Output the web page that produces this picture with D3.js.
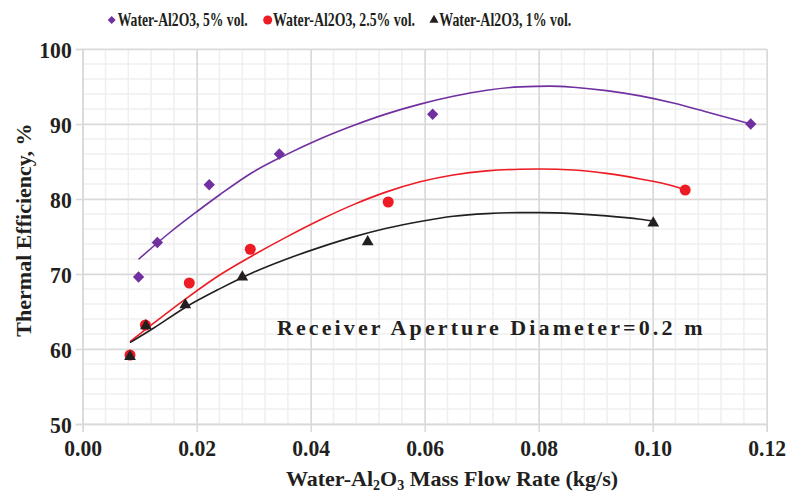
<!DOCTYPE html>
<html>
<head>
<meta charset="utf-8">
<script src="https://cdn.jsdelivr.net/npm/d3@7/dist/d3.min.js"></script>
<style>
  html, body { margin: 0; padding: 0; background: #fff; }
  svg { display: block; }
  text { font-family: "Liberation Serif", "Times New Roman", serif; font-weight: bold; fill: #231F20; }
</style>
</head>
<body>
<svg id="chart" width="788" height="492"></svg>
<script>
// ---------- data ----------
const seriesNames = ["Water-Al2O3, 5% vol.", "Water-Al2O3, 2.5% vol.", "Water-Al2O3, 1% vol."];

const x5  = [0.0098, 0.0131, 0.0222, 0.0345, 0.0614, 0.1172];
const y5  = [69.6, 74.2, 81.9, 86.0, 91.3, 90.0];
const x25 = [0.0083, 0.0110, 0.0187, 0.0294, 0.0536, 0.1057];
const y25 = [59.2, 63.2, 68.8, 73.3, 79.6, 81.2];
const x1  = [0.0083, 0.0111, 0.0180, 0.0280, 0.0500, 0.1001];
const y1  = [59.0, 63.1, 65.9, 69.6, 74.3, 76.8];

// trend lines
const tx5  = [0.0098, 0.0154, 0.0200, 0.0241, 0.0299, 0.0358, 0.0416, 0.0475, 0.0533, 0.0592, 0.0650, 0.0709, 0.0767, 0.0820, 0.0861, 0.0919, 0.0978, 0.1036, 0.1095, 0.1172];
const ty5  = [71.96, 75.6, 78.3, 80.6, 83.6, 85.95, 88.0, 89.8, 91.35, 92.65, 93.7, 94.5, 94.95, 95.05, 94.9, 94.45, 93.75, 92.8, 91.6, 90.0];
const tx25 = [0.0083, 0.0124, 0.0182, 0.0241, 0.0299, 0.0358, 0.0416, 0.0475, 0.0533, 0.0592, 0.0650, 0.0709, 0.0767, 0.0802, 0.0861, 0.0919, 0.0978, 0.1036, 0.1057];
const ty25 = [60.98, 63.42, 66.76, 69.9, 72.5, 74.95, 77.2, 79.25, 80.95, 82.3, 83.2, 83.75, 83.97, 84.0, 83.87, 83.42, 82.67, 81.73, 81.2];
const tx1  = [0.0083, 0.0124, 0.0182, 0.0241, 0.0299, 0.0358, 0.0416, 0.0475, 0.0533, 0.0592, 0.0650, 0.0709, 0.0767, 0.0802, 0.0861, 0.0919, 0.0978, 0.1001];
const ty1  = [60.85, 62.76, 65.64, 68.05, 70.2, 72.0, 73.55, 74.95, 76.1, 77.0, 77.7, 78.05, 78.18, 78.18, 78.05, 77.75, 77.3, 77.05];

const xTicks = [0, 0.02, 0.04, 0.06, 0.08, 0.10, 0.12];
const yTicks = [50, 60, 70, 80, 90, 100];
const xMinorStep = 0.004;
const yMinorStep = 2;

const colors = ["#7030A0", "#ED1C24", "#231F20"];
const annotation = "Receiver Aperture Diameter=0.2 m";

// ---------- helpers ----------
function condense(sel, factor) {
  sel.each(function () {
    const w = this.getComputedTextLength();
    d3.select(this).attr("textLength", w * factor).attr("lengthAdjust", "spacingAndGlyphs");
  });
}

// ---------- layout ----------
const svg = d3.select("#chart");
const L = 82.7, R = 766.7, T = 49, B = 424;
const x = d3.scaleLinear().domain([0, 0.12]).range([L, R]);
const y = d3.scaleLinear().domain([50, 100]).range([B, T]);

// minor grid
const xMinor = d3.range(0, Math.round(0.12 / xMinorStep) + 1).map(i => i * xMinorStep);
const yMinor = d3.range(0, Math.round(50 / yMinorStep) + 1).map(i => 50 + i * yMinorStep);
const grid = svg.append("g");
grid.selectAll(".vmin").data(xMinor).join("line")
  .attr("x1", d => x(d)).attr("x2", d => x(d)).attr("y1", T).attr("y2", B)
  .attr("stroke", "#efefef").attr("stroke-width", 1.5);
grid.selectAll(".hmin").data(yMinor).join("line")
  .attr("x1", L).attr("x2", R).attr("y1", d => y(d)).attr("y2", d => y(d))
  .attr("stroke", "#efefef").attr("stroke-width", 1.5);

// major grid via axes
const gx = svg.append("g").attr("transform", `translate(0,${B})`)
  .call(d3.axisBottom(x).tickValues(xTicks).tickSize(-(B - T)).tickFormat(""));
gx.select(".domain").remove();
gx.selectAll("line").attr("stroke", "#d9d9d9").attr("stroke-width", 1.5);
const gy = svg.append("g").attr("transform", `translate(${L},0)`)
  .call(d3.axisLeft(y).tickValues(yTicks).tickSize(-(R - L)).tickFormat(""));
gy.select(".domain").remove();
gy.selectAll("line").attr("stroke", "#d9d9d9").attr("stroke-width", 1.5);

// axes with outer ticks and labels
const ax = svg.append("g").attr("transform", `translate(0,${B})`)
  .call(d3.axisBottom(x).tickValues(xTicks).tickSize(8).tickPadding(8).tickFormat(d3.format(".2f")));
ax.select(".domain").attr("stroke", "#d9d9d9").attr("stroke-width", 1.5);
ax.selectAll("line").attr("stroke", "#d9d9d9").attr("stroke-width", 1.5);
ax.selectAll("text").style("font-size", "23.5px").attr("fill", "#231F20").attr("dy", "0.70em");
condense(ax.selectAll("text"), 0.92);

const ay = svg.append("g").attr("transform", `translate(${L},0)`)
  .call(d3.axisLeft(y).tickValues(yTicks).tickSize(7).tickPadding(4).tickFormat(d3.format("d")));
ay.select(".domain").attr("stroke", "#d9d9d9").attr("stroke-width", 1.5);
ay.selectAll("line").attr("stroke", "#d9d9d9").attr("stroke-width", 1.5);
ay.selectAll("text").style("font-size", "23.5px").attr("fill", "#231F20").attr("dy", "0.34em");
condense(ay.selectAll("text"), 0.92);

// trend lines
const line = d3.line().x(d => x(d[0])).y(d => y(d[1])).curve(d3.curveMonotoneX);
const trends = [[tx5, ty5], [tx25, ty25], [tx1, ty1]];
trends.forEach((t, i) => {
  svg.append("path").datum(t[0].map((v, j) => [v, t[1][j]]))
    .attr("d", line).attr("fill", "none").attr("stroke", colors[i]).attr("stroke-width", 1.6);
});

// markers
const sym = [d3.symbolSquare, d3.symbolCircle, d3.symbolTriangle];
const rot = [45, 0, 0];
const sizes = [64, 95, 60];
const pts = [[x5, y5], [x25, y25], [x1, y1]];
pts.forEach((p, i) => {
  svg.append("g").selectAll("path").data(p[0].map((v, j) => [v, p[1][j]])).join("path")
    .attr("transform", d => `translate(${x(d[0])},${y(d[1])}) rotate(${rot[i]})`)
    .attr("d", d3.symbol().type(sym[i]).size(sizes[i]))
    .attr("fill", colors[i]);
});

// annotation
svg.append("text").attr("x", 277).attr("y", 335)
  .style("font-size", "22px").style("letter-spacing", "3.1px").text(annotation);

// axis titles
const xt = svg.append("text").attr("x", 452).attr("y", 486)
  .attr("text-anchor", "middle").style("font-size", "22px");
xt.append("tspan").text("Water-Al");
xt.append("tspan").text("2").attr("dy", 4).style("font-size", "14px");
xt.append("tspan").text("O").attr("dy", -4);
xt.append("tspan").text("3").attr("dy", 4).style("font-size", "14px");
xt.append("tspan").text(" Mass Flow Rate (kg/s)").attr("dy", -4);

svg.append("text").attr("transform", `translate(31,230) rotate(-90)`)
  .attr("text-anchor", "middle").style("font-size", "22px").text("Thermal Efficiency, %");

// legend
const legX = [111.7, 267.7, 434];
const legTextX = [117.7, 273, 439.3];
const legW = [130, 142, 132];
const legSizes = [32, 64, 36];
seriesNames.forEach((n, i) => {
  svg.append("path").attr("transform", `translate(${legX[i]},20) rotate(${rot[i]})`)
    .attr("d", d3.symbol().type(sym[i]).size(legSizes[i])).attr("fill", colors[i]);
  svg.append("text").attr("transform", `translate(${legTextX[i]},26.3) scale(1,1.25)`)
    .style("font-size", "15px").attr("textLength", legW[i]).attr("lengthAdjust", "spacingAndGlyphs").text(n);
});
</script>
</body>
</html>
